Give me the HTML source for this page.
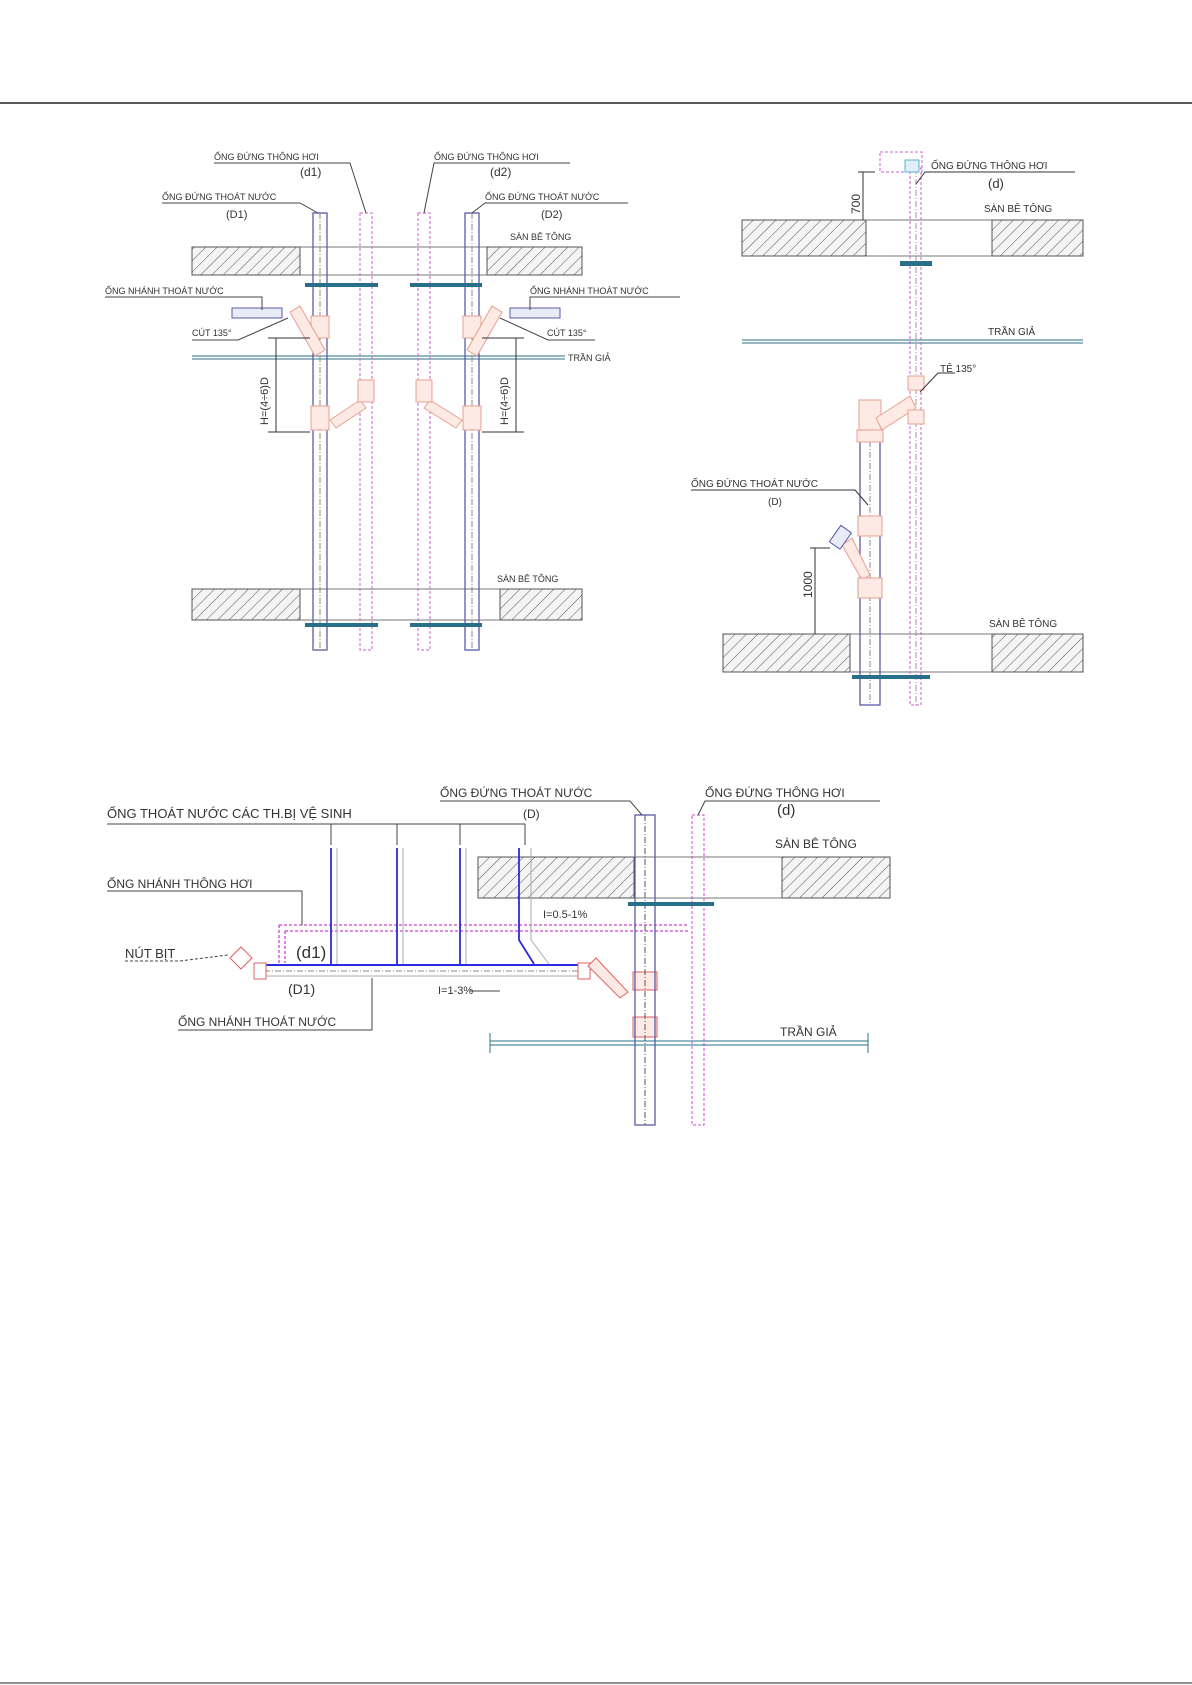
<!DOCTYPE html>
<html><head><meta charset="utf-8"><style>
html,body{margin:0;padding:0;background:#fff;}
svg{display:block}
text{font-family:"Liberation Sans",sans-serif;fill:#333;}
</style></head><body>
<svg width="1192" height="1685" viewBox="0 0 1192 1685" xmlns="http://www.w3.org/2000/svg">
<defs>
<pattern id="h" width="8" height="8" patternUnits="userSpaceOnUse" patternTransform="rotate(45)">
<rect width="8" height="8" fill="#f4f4f4"/><line x1="0" y1="0" x2="0" y2="8" stroke="#555" stroke-width="1"/></pattern>
</defs>
<line x1="0" y1="103" x2="1192" y2="103" stroke="#222" stroke-width="1.5"/>
<line x1="0" y1="1683" x2="1192" y2="1683" stroke="#222" stroke-width="1"/>

<!-- ========== TOP LEFT ========== -->
<g stroke="#555" stroke-width="1" fill="url(#h)">
<rect x="192" y="247" width="108" height="28"/><rect x="487" y="247" width="95" height="28"/>
<rect x="192" y="589" width="108" height="31"/><rect x="500" y="589" width="82" height="31"/>
</g>
<g stroke="#777" stroke-width="1">
<line x1="300" y1="247" x2="487" y2="247"/><line x1="300" y1="275" x2="487" y2="275"/>
<line x1="300" y1="589" x2="500" y2="589"/><line x1="300" y1="620" x2="500" y2="620"/>
</g>
<line x1="192" y1="356" x2="565" y2="356" stroke="#2a6f8a" stroke-width="1"/>
<line x1="192" y1="359" x2="565" y2="359" stroke="#2a6f8a" stroke-width="1"/>
<text x="568" y="361" font-size="9">TRẦN GIẢ</text>
<g fill="none">
<rect x="313" y="213" width="14" height="437" stroke="#5a5aa8" stroke-width="1.3"/>
<rect x="465" y="213" width="14" height="437" stroke="#5a5aa8" stroke-width="1.3"/>
<rect x="360" y="213" width="12" height="437" stroke="#d05cd0" stroke-width="1" stroke-dasharray="3,2"/>
<rect x="418" y="213" width="12" height="437" stroke="#d05cd0" stroke-width="1" stroke-dasharray="3,2"/>
<line x1="320" y1="213" x2="320" y2="650" stroke="#888" stroke-dasharray="6,2,1,2"/>
<line x1="472" y1="213" x2="472" y2="650" stroke="#888" stroke-dasharray="6,2,1,2"/>
</g>
<g fill="#2a6f8a"><rect x="305" y="283" width="73" height="4"/><rect x="410" y="283" width="72" height="4"/>
<rect x="305" y="623" width="73" height="4"/><rect x="410" y="623" width="72" height="4"/></g>
<g fill="#fdeae4" stroke="#e8a090" stroke-width="1">
<rect x="311" y="316" width="18" height="22"/><rect x="463" y="316" width="18" height="22"/>
<rect x="311" y="406" width="18" height="24"/><rect x="463" y="406" width="18" height="24"/>
<polygon points="290,312 300,306 325,350 315,356"/><polygon points="502,312 492,306 467,350 477,356"/>
<polygon points="330,420 360,400 366,408 336,428"/><polygon points="462,420 430,400 424,408 456,428"/>
<rect x="358" y="380" width="16" height="22"/><rect x="416" y="380" width="16" height="22"/>
</g>
<g fill="#e8ecf6" stroke="#5a5aa8"><rect x="232" y="308" width="50" height="10"/><rect x="510" y="308" width="50" height="10"/></g>
<g stroke="#333" stroke-width="1" fill="none">
<line x1="276" y1="338" x2="276" y2="432"/><line x1="268" y1="338" x2="310" y2="338"/><line x1="268" y1="432" x2="310" y2="432"/>
<line x1="516" y1="338" x2="516" y2="432"/><line x1="482" y1="338" x2="524" y2="338"/><line x1="482" y1="432" x2="524" y2="432"/>
</g>
<text font-size="11" transform="translate(268,425) rotate(-90)">H=(4÷6)D</text>
<text font-size="11" transform="translate(508,425) rotate(-90)">H=(4÷6)D</text>
<g font-size="9">
<text x="214" y="160">ỐNG ĐỨNG THÔNG HƠI</text><text x="300" y="176" font-size="12">(d1)</text>
<text x="162" y="200">ỐNG ĐỨNG THOÁT NƯỚC</text><text x="226" y="218" font-size="11">(D1)</text>
<text x="434" y="160">ỐNG ĐỨNG THÔNG HƠI</text><text x="490" y="176" font-size="12">(d2)</text>
<text x="485" y="200">ỐNG ĐỨNG THOÁT NƯỚC</text><text x="541" y="218" font-size="11">(D2)</text>
<text x="510" y="240">SÀN BÊ TÔNG</text>
<text x="105" y="294">ỐNG NHÁNH THOÁT NƯỚC</text>
<text x="530" y="294">ỐNG NHÁNH THOÁT NƯỚC</text>
<text x="192" y="336">CÚT 135°</text><text x="547" y="336">CÚT 135°</text>
<text x="497" y="582">SÀN BÊ TÔNG</text>
</g>
<g stroke="#444" stroke-width="1" fill="none">
<polyline points="214,163 350,163 366,213"/><polyline points="162,203 300,203 318,213"/>
<polyline points="570,163 434,163 424,213"/><polyline points="628,203 485,203 472,213"/>
<polyline points="105,297 262,297 262,310"/><polyline points="680,297 530,297 530,310"/>
<polyline points="192,340 238,340 288,318"/><polyline points="595,340 548,340 500,318"/>
</g>

<!-- ========== TOP RIGHT ========== -->
<g stroke="#555" stroke-width="1" fill="url(#h)">
<rect x="742" y="220" width="124" height="36"/><rect x="992" y="220" width="91" height="36"/>
<rect x="723" y="634" width="127" height="38"/><rect x="992" y="634" width="91" height="38"/>
</g>
<g stroke="#777"><line x1="866" y1="220" x2="992" y2="220"/><line x1="866" y1="256" x2="992" y2="256"/>
<line x1="850" y1="634" x2="992" y2="634"/><line x1="850" y1="672" x2="992" y2="672"/></g>
<line x1="742" y1="340" x2="1083" y2="340" stroke="#2a6f8a"/><line x1="742" y1="343" x2="1083" y2="343" stroke="#2a6f8a"/>
<text x="988" y="335" font-size="10">TRẦN GIẢ</text>
<rect x="910" y="168" width="11" height="537" fill="none" stroke="#d05cd0" stroke-dasharray="3,2"/>
<line x1="916" y1="168" x2="916" y2="705" stroke="#999" stroke-dasharray="6,2,1,2"/>
<rect x="880" y="152" width="42" height="20" fill="none" stroke="#d05cd0" stroke-dasharray="3,2"/>
<rect x="905" y="160" width="14" height="12" fill="#dff0f8" stroke="#5ab0d0"/>
<rect x="860" y="441" width="20" height="264" fill="none" stroke="#5a5aa8" stroke-width="1.3"/>
<line x1="870" y1="441" x2="870" y2="705" stroke="#888" stroke-dasharray="6,2,1,2"/>
<g fill="#fdeae4" stroke="#e8a090">
<rect x="859" y="400" width="22" height="42"/><rect x="857" y="430" width="26" height="12"/>
<polygon points="876,418 910,396 916,408 882,430"/>
<rect x="908" y="376" width="16" height="14"/><rect x="908" y="410" width="16" height="14"/>
<polygon points="842,545 852,538 870,575 862,580"/><rect x="858" y="516" width="24" height="20"/><rect x="858" y="578" width="24" height="20"/>
</g>
<rect x="834" y="527" width="13" height="20" fill="#e8ecf6" stroke="#5a5aa8" transform="rotate(35 840 537)"/>
<rect x="900" y="261" width="32" height="5" fill="#2a6f8a"/>
<rect x="852" y="675" width="78" height="4" fill="#2a6f8a"/>
<g stroke="#333" fill="none"><line x1="863" y1="172" x2="863" y2="220"/><line x1="858" y1="172" x2="875" y2="172"/>
<line x1="815" y1="548" x2="815" y2="634"/><line x1="810" y1="548" x2="830" y2="548"/>
<polyline points="1075,172 925,172 916,184"/><polyline points="691,490 855,490 868,505"/><polyline points="955,373 938,373 920,392"/></g>
<text font-size="12" transform="translate(860,214) rotate(-90)">700</text>
<text font-size="12" transform="translate(812,598) rotate(-90)">1000</text>
<g font-size="10">
<text x="931" y="169">ỐNG ĐỨNG THÔNG HƠI</text><text x="988" y="188" font-size="13">(d)</text>
<text x="984" y="212">SÀN BÊ TÔNG</text><text x="940" y="372">TÊ 135°</text>
<text x="691" y="487">ỐNG ĐỨNG THOÁT NƯỚC</text><text x="768" y="505">(D)</text>
<text x="989" y="627">SÀN BÊ TÔNG</text>
</g>

<!-- ========== BOTTOM ========== -->
<g stroke="#555" stroke-width="1" fill="url(#h)">
<rect x="478" y="857" width="156" height="41"/><rect x="782" y="857" width="108" height="41"/>
</g>
<g stroke="#777"><line x1="634" y1="857" x2="782" y2="857"/><line x1="634" y1="898" x2="782" y2="898"/></g>
<g fill="none" stroke="#d040d0" stroke-dasharray="3,2" stroke-width="1.3">
<line x1="279" y1="925" x2="688" y2="925"/><line x1="285" y1="931" x2="688" y2="931"/>
<line x1="279" y1="925" x2="279" y2="963"/><line x1="285" y1="931" x2="285" y2="963"/></g>
<g stroke="#2a2ae0" stroke-width="1.8" fill="none">
<line x1="331" y1="848" x2="331" y2="964"/><line x1="397" y1="848" x2="397" y2="964"/>
<line x1="460" y1="848" x2="460" y2="964"/><polyline points="519,848 519,940 534,964"/>
<line x1="264" y1="965" x2="580" y2="965" stroke-width="2"/></g>
<g stroke="#aab" fill="none"><line x1="337" y1="848" x2="337" y2="964"/><line x1="403" y1="848" x2="403" y2="964"/>
<line x1="466" y1="848" x2="466" y2="964"/><polyline points="531,848 531,940 549,964"/>
<line x1="264" y1="976" x2="580" y2="976"/></g>
<line x1="264" y1="971" x2="580" y2="971" stroke="#888" stroke-dasharray="6,2,1,2"/>
<g fill="#fff" stroke="#e06060"><rect x="254" y="963" width="12" height="16"/><rect x="578" y="963" width="12" height="16"/>
<polygon points="230,958 241,947 252,958 241,969"/></g>
<g fill="#fdeae4" stroke="#e06060"><polygon points="588,966 596,958 628,992 620,998"/>
<rect x="633" y="972" width="24" height="18"/><rect x="633" y="1017" width="24" height="20"/></g>
<rect x="635" y="815" width="20" height="310" fill="none" stroke="#5a5aa8" stroke-width="1.3"/>
<line x1="645" y1="815" x2="645" y2="1125" stroke="#555" stroke-dasharray="6,2,1,2"/>
<rect x="692" y="815" width="12" height="310" fill="none" stroke="#d040d0" stroke-dasharray="3,2"/>
<rect x="628" y="902" width="86" height="4" fill="#2a6f8a"/>
<line x1="490" y1="1041" x2="868" y2="1041" stroke="#2a6f8a"/><line x1="490" y1="1045" x2="868" y2="1045" stroke="#2a6f8a"/>
<line x1="490" y1="1033" x2="490" y2="1053" stroke="#2a6f8a"/><line x1="868" y1="1033" x2="868" y2="1053" stroke="#2a6f8a"/>
<g stroke="#444" fill="none">
<polyline points="107,824 525,824 525,845"/><line x1="331" y1="824" x2="331" y2="845"/><line x1="397" y1="824" x2="397" y2="845"/><line x1="460" y1="824" x2="460" y2="845"/>
<polyline points="440,801 630,801 642,815"/><polyline points="880,801 705,801 698,815"/>
<polyline points="107,891 302,891 302,925"/>
<polyline points="178,1030 372,1030 372,978"/>
<polyline points="125,961 180,961 228,955" stroke-dasharray="3,2"/>
<line x1="470" y1="991" x2="500" y2="991"/>
</g>
<g font-size="12">
<text x="440" y="797">ỐNG ĐỨNG THOÁT NƯỚC</text><text x="523" y="818">(D)</text>
<text x="705" y="797">ỐNG ĐỨNG THÔNG HƠI</text><text x="777" y="815" font-size="15">(d)</text>
<text x="107" y="818" font-size="13">ỐNG THOÁT NƯỚC CÁC TH.BỊ VỆ SINH</text>
<text x="775" y="848">SÀN BÊ TÔNG</text>
<text x="107" y="888">ỐNG NHÁNH THÔNG HƠI</text>
<text x="543" y="918" font-size="11">I=0.5-1%</text>
<text x="296" y="958" font-size="17">(d1)</text>
<text x="125" y="958" font-size="13">NÚT BỊT</text>
<text x="288" y="994" font-size="14">(D1)</text>
<text x="438" y="994" font-size="11">I=1-3%</text>
<text x="178" y="1026">ỐNG NHÁNH THOÁT NƯỚC</text>
<text x="780" y="1036">TRẦN GIẢ</text>
</g>
</svg>
</body></html>
